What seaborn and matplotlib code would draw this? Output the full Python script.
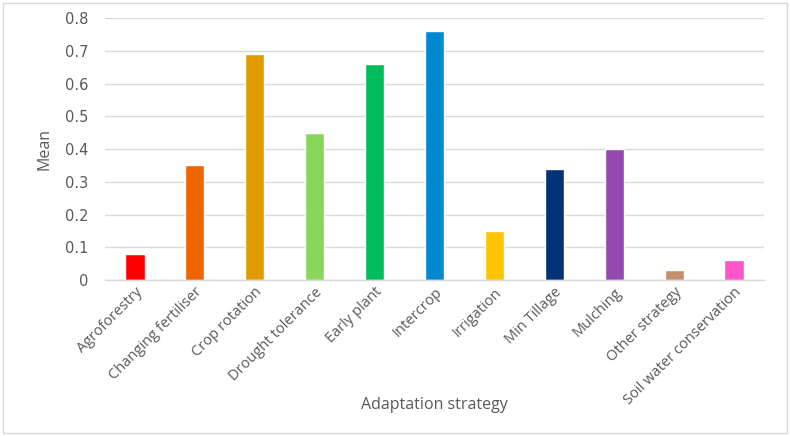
import matplotlib
matplotlib.use("Agg")
import matplotlib.pyplot as plt
import seaborn as sns
import pandas as pd
from matplotlib.patches import Rectangle

categories = ["Agroforestry", "Changing fertiliser", "Crop rotation", "Drought tolerance",
              "Early plant", "Intercrop", "Irrigation", "Min Tillage", "Mulching",
              "Other strategy", "Soil water conservation"]
means = [0.08, 0.35, 0.69, 0.45, 0.66, 0.76, 0.15, 0.34, 0.40, 0.03, 0.06]
colors = ["#FF0000", "#F06400", "#E09C00", "#88D65A", "#00BC5A", "#0088D0",
          "#FFC500", "#003278", "#9349B0", "#C4906A", "#FF55CC"]
yticks = [0, 0.1, 0.2, 0.3, 0.4, 0.5, 0.6, 0.7, 0.8]
ytick_labels = ["0", "0.1", "0.2", "0.3", "0.4", "0.5", "0.6", "0.7", "0.8"]

sns.set_theme(style="white")
plt.rcParams['font.family'] = ['Open Sans', 'DejaVu Sans']

df = pd.DataFrame({"Adaptation strategy": categories, "Mean": means})

fig = plt.figure(figsize=(7.9, 4.36), dpi=100)
ax = fig.add_axes([0.133, 0.358, 0.834, 0.600])

sns.barplot(data=df, x="Adaptation strategy", y="Mean", hue="Adaptation strategy",
            palette=colors, legend=False, width=0.32, ax=ax, saturation=1)

ax.set_xlim(-0.5, 10.5)
ax.set_ylim(0, 0.8)
ax.set_yticks(yticks)
ax.set_yticklabels(ytick_labels, fontfamily="DejaVu Sans")
ax.yaxis.grid(True, color="#D9D9D9", linewidth=1.0)
ax.set_axisbelow(True)
for s in ["top", "right", "left"]:
    ax.spines[s].set_visible(False)
ax.spines["bottom"].set_color("#D9D9D9")
ax.spines["bottom"].set_linewidth(1.0)
ax.tick_params(axis="both", length=0, colors="#595959", labelsize=10.5)
ax.tick_params(axis="y", pad=12)
ax.set_xticks(range(len(categories)))
ax.set_xticklabels(categories, rotation=45, ha="right", rotation_mode="anchor")
ax.set_xlabel("Adaptation strategy", color="#595959", fontsize=11.5)
ax.xaxis.set_label_coords(0.50, -0.478)
ax.xaxis.label.set_va("center")
ax.set_ylabel("Mean", color="#595959", fontsize=11.5)
ax.yaxis.set_label_coords(-0.08, 0.5)

fig.patches.append(Rectangle((0.004, 0.007), 0.992, 0.986, transform=fig.transFigure,
                             fill=False, edgecolor="#D9D9D9", linewidth=1.0))

fig.savefig("out.png", dpi=100)
